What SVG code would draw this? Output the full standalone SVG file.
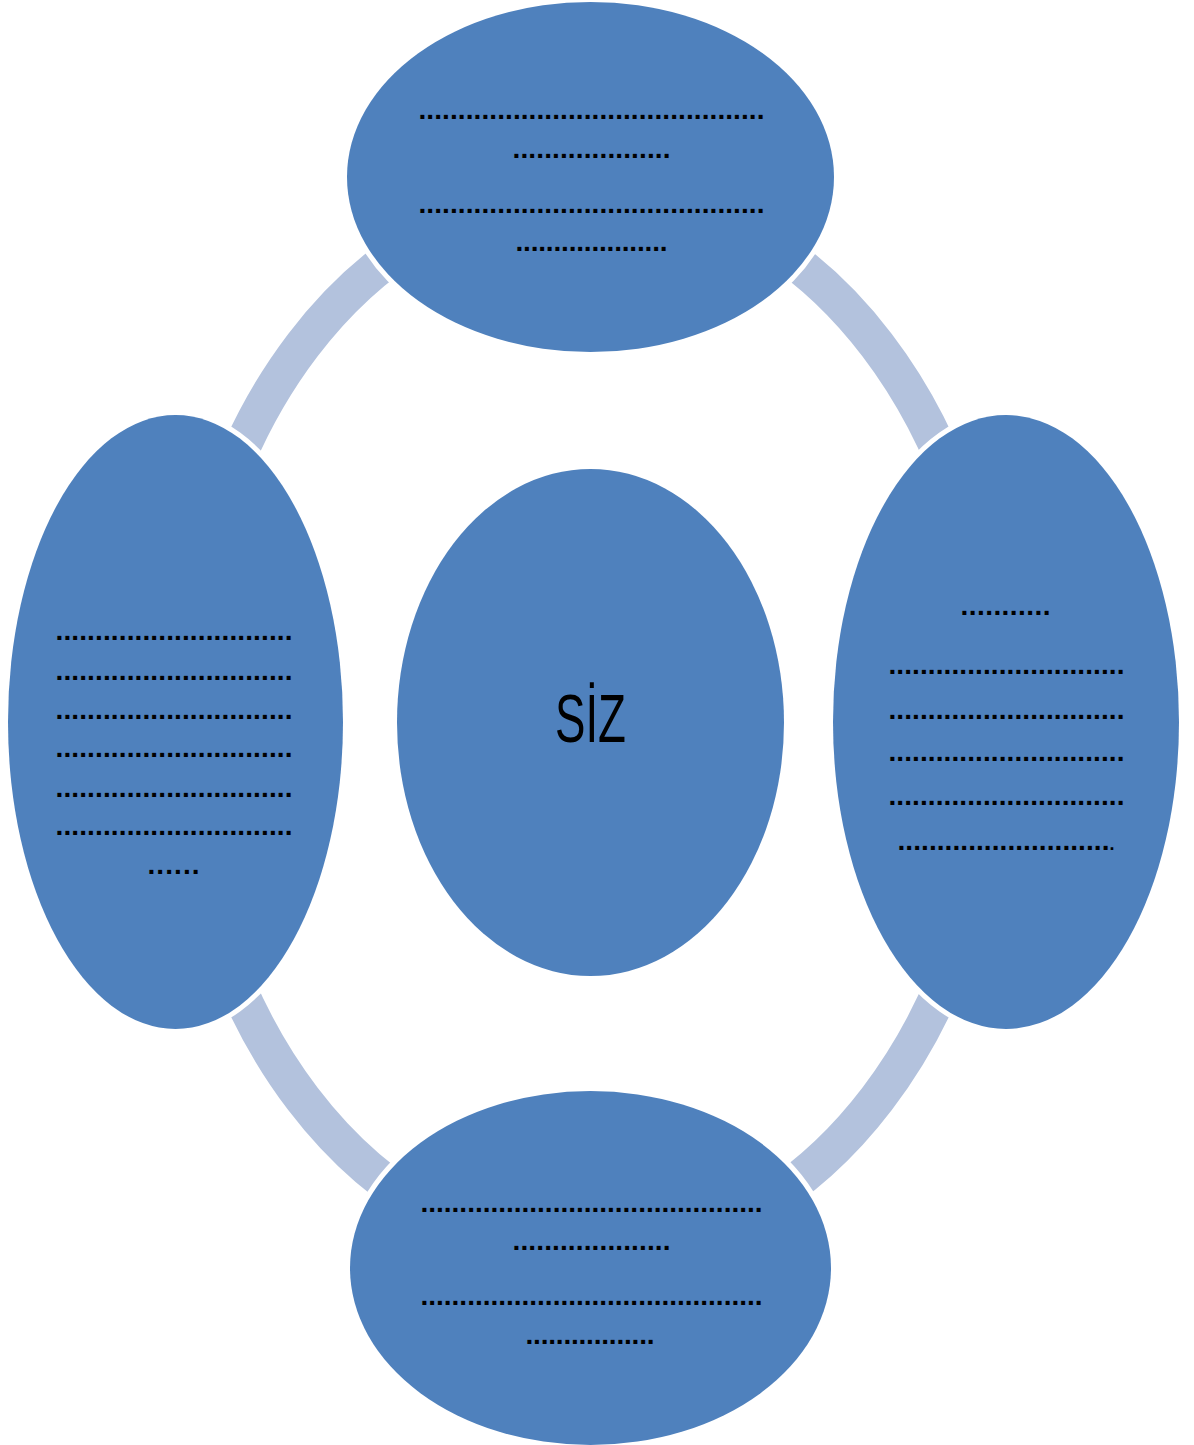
<svg xmlns="http://www.w3.org/2000/svg" width="1194" height="1445" viewBox="0 0 1194 1445">
<style>
.ring{fill:none;stroke:#B3C2DD;stroke-width:37}
.node{fill:#4F81BD;stroke:#FFFFFF;stroke-width:10;paint-order:stroke}
.dots{font-family:"Liberation Sans",Arial,sans-serif;font-size:28px;font-weight:bold;fill:#000000}
.main{font-family:"Liberation Sans",Arial,sans-serif;font-size:68px;fill:#000000}
</style>
<rect width="1194" height="1445" fill="#FFFFFF"/>
<g id="connectors">
<path class="ring" d="M 590 189 A 406 533 0 0 1 996 722"/>
<path class="ring" d="M 996 722 A 406 533 0 0 1 590 1255"/>
<path class="ring" d="M 590 1255 A 406 533 0 0 1 184 722"/>
<path class="ring" d="M 184 722 A 406 533 0 0 1 590 189"/>
</g>
<g id="node-center">
<ellipse class="node" cx="590.5" cy="722.5" rx="193.5" ry="253.5"/>
<text class="main" x="555" y="742" textLength="71" lengthAdjust="spacingAndGlyphs">SİZ</text>
</g>
<g id="node-top">
<ellipse class="node" cx="590.5" cy="177" rx="243.5" ry="175"/>
<text class="dots" x="418.5" y="119" textLength="346" lengthAdjust="spacing">............................................</text>
<text class="dots" x="512.5" y="158" textLength="158" lengthAdjust="spacing">....................</text>
<text class="dots" x="418.5" y="213" textLength="346" lengthAdjust="spacing">............................................</text>
<text class="dots" x="515.5" y="251" textLength="152" lengthAdjust="spacing">....................</text>
</g>
<g id="node-right">
<ellipse class="node" cx="1006" cy="722" rx="173" ry="307"/>
<text class="dots" x="960.5" y="615" textLength="90" lengthAdjust="spacing">...........</text>
<text class="dots" x="888.5" y="674" textLength="236" lengthAdjust="spacing">..............................</text>
<text class="dots" x="888.5" y="719" textLength="236" lengthAdjust="spacing">..............................</text>
<text class="dots" x="888.5" y="761" textLength="236" lengthAdjust="spacing">..............................</text>
<text class="dots" x="888.5" y="805" textLength="236" lengthAdjust="spacing">..............................</text>
<text class="dots" x="897.5" y="850" textLength="217" lengthAdjust="spacing">...........................<tspan font-size="18">.</tspan></text>
</g>
<g id="node-bottom">
<ellipse class="node" cx="590.5" cy="1268" rx="240.5" ry="177"/>
<text class="dots" x="420.5" y="1212" textLength="342" lengthAdjust="spacing">............................................</text>
<text class="dots" x="512.5" y="1250" textLength="158" lengthAdjust="spacing">....................</text>
<text class="dots" x="420.5" y="1305" textLength="342" lengthAdjust="spacing">............................................</text>
<text class="dots" x="525.5" y="1344" textLength="129" lengthAdjust="spacing">.................</text>
</g>
<g id="node-left">
<ellipse class="node" cx="175.5" cy="722" rx="167.5" ry="307"/>
<text class="dots" x="55.5" y="640" textLength="237" lengthAdjust="spacing">..............................</text>
<text class="dots" x="55.5" y="680" textLength="237" lengthAdjust="spacing">..............................</text>
<text class="dots" x="55.5" y="719" textLength="237" lengthAdjust="spacing">..............................</text>
<text class="dots" x="55.5" y="757" textLength="237" lengthAdjust="spacing">..............................</text>
<text class="dots" x="55.5" y="797" textLength="237" lengthAdjust="spacing">..............................</text>
<text class="dots" x="55.5" y="835" textLength="237" lengthAdjust="spacing">..............................</text>
<text class="dots" x="147.5" y="874" textLength="52" lengthAdjust="spacing">......</text>
</g>
</svg>
